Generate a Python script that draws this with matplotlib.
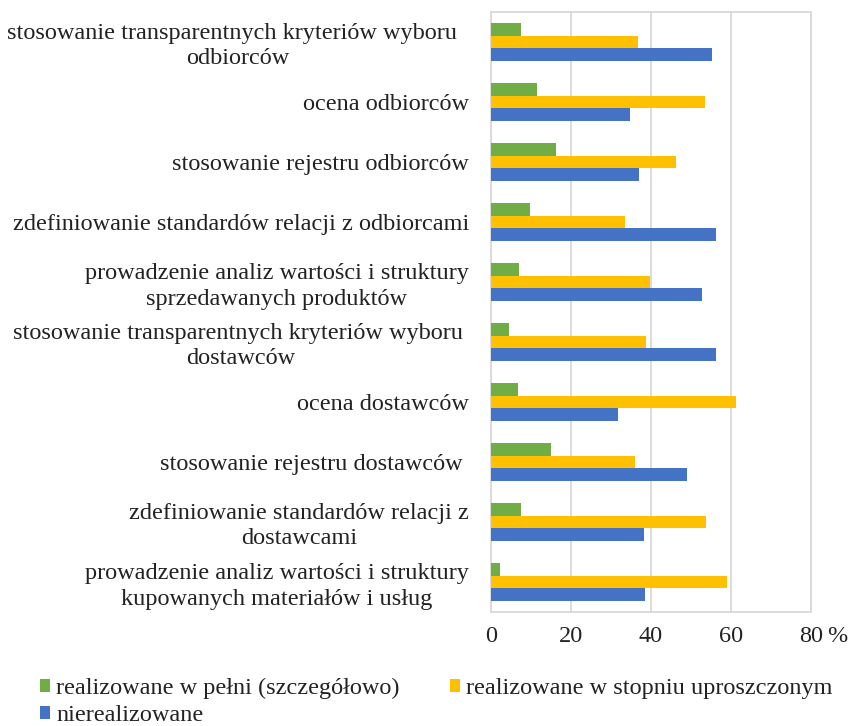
import numpy as np
import matplotlib
matplotlib.use("Agg")
import matplotlib.pyplot as plt

plt.rcParams['font.family'] = ['Liberation Serif', 'DejaVu Serif']

# Category labels, top to bottom
categories = [
    "stosowanie transparentnych kryteriów wyboru  \nodbiorców",
    "ocena odbiorców",
    "stosowanie rejestru odbiorców",
    "zdefiniowanie standardów relacji z odbiorcami",
    "prowadzenie analiz wartości i struktury\nsprzedawanych produktów",
    "stosowanie transparentnych kryteriów wyboru \ndostawców",
    "ocena dostawców",
    "stosowanie rejestru dostawców ",
    "zdefiniowanie standardów relacji z\ndostawcami",
    "prowadzenie analiz wartości i struktury\nkupowanych materiałów i usług",
]

# Values in %
full = [7.5, 11.4, 16.2, 9.8, 6.9, 4.5, 6.7, 14.9, 7.5, 2.2]
simplified = [36.9, 53.5, 46.4, 33.5, 39.9, 38.9, 61.4, 36.0, 53.8, 59.1]
not_done = [55.3, 34.8, 37.1, 56.4, 52.9, 56.4, 31.7, 49.0, 38.4, 38.5]

series_names = ["realizowane w pełni (szczegółowo)",
                "realizowane w stopniu uproszczonym",
                "nierealizowane"]
colors = ["#70AD47", "#FFC000", "#4472C4"]

x_ticks = [0, 20, 40, 60, 80]

fs = 17.5
fig = plt.figure(figsize=(8.5, 7.26), dpi=100)
ax = fig.add_axes([491 / 850, 1 - 612 / 726, (810.7 - 491) / 850, 600 / 726])

y = np.arange(len(categories))
h = 0.207
bars = []
for k, (vals, c) in enumerate(zip([full, simplified, not_done], colors)):
    b = ax.barh(y + (k - 1) * h, vals, height=h, color=c, zorder=3)
    bars.append(b)

ax.set_ylim(len(categories) - 0.5, -0.5)
ax.set_xlim(0, 80)
ax.set_xticks(x_ticks)
ax.set_xticklabels([str(t) for t in x_ticks])
ax.set_yticks(y)
ax.set_yticklabels(categories, multialignment='center', linespacing=1.25)

ax.tick_params(axis='both', length=0, labelsize=fs, colors='#222222')
ax.tick_params(axis='x', pad=10)
ax.tick_params(axis='y', pad=16)
ax.grid(axis='x', color='#d9d9d9', linewidth=1.3, zorder=0)
for s in ax.spines.values():
    s.set_color('#d9d9d9')
    s.set_linewidth(1.3)

# percent sign after the last tick label
ax.annotate('%', xy=(80, 0), xycoords=('data', 'axes fraction'),
            xytext=(11.5, -10), textcoords='offset points',
            ha='left', va='top', fontsize=fs, color='#222222')

leg = fig.legend([bars[0], bars[2], bars[1]],
                 [series_names[0], series_names[2], series_names[1]],
                 ncol=2, loc='upper left', bbox_to_anchor=(0.033, 0.083),
                 frameon=False, fontsize=fs, handlelength=0.42, handleheight=0.42,
                 handletextpad=0.25, columnspacing=2.05, borderpad=0,
                 labelspacing=0.25)
for t in leg.get_texts():
    t.set_color('#222222')

fig.savefig("out.png", dpi=100)
